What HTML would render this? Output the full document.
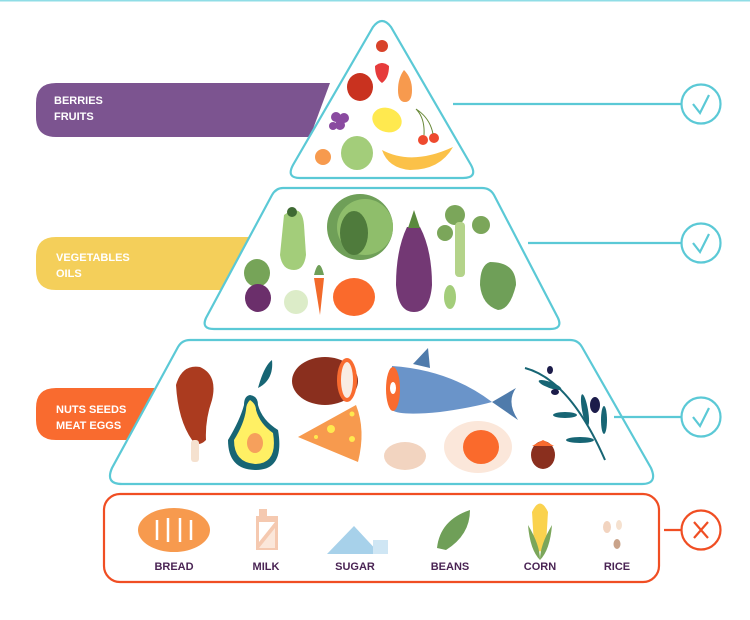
<!DOCTYPE html>
<html><head><meta charset="utf-8"><style>
html,body{margin:0;padding:0;background:#fff;}
svg{display:block;}
text{font-family:"Liberation Sans Narrow","Liberation Sans",sans-serif;font-weight:bold;}
</style></head><body>
<svg width="750" height="620" viewBox="0 0 750 620" xmlns="http://www.w3.org/2000/svg">
<rect x="0" y="0" width="750" height="1.5" fill="#8fdde6"/>
<!-- labels -->
<path d="M56,83 H330 L310,137 H56 Q36,137 36,117 V103 Q36,83 56,83Z" fill="#7c5490"/>
<text x="54" y="104" font-size="11" fill="#fff">BERRIES</text>
<text x="54" y="120" font-size="11" fill="#fff">FRUITS</text>
<path d="M56,237 H252 L228,290 H56 Q36,290 36,270 V257 Q36,237 56,237Z" fill="#f4cf5a"/>
<text x="56" y="261" font-size="11" fill="#fff">VEGETABLES</text>
<text x="56" y="277" font-size="11" fill="#fff">OILS</text>
<path d="M56,388 H155 L130,440 H56 Q36,440 36,420 V408 Q36,388 56,388Z" fill="#f96b2f"/>
<text x="56" y="413" font-size="11" fill="#fff">NUTS SEEDS</text>
<text x="56" y="429" font-size="11" fill="#fff">MEAT EGGS</text>
<!-- tiers -->
<path d="M373,27 Q382,15 391,27 L471,165 Q478,178 463,178 H300 Q286,178 293,165 Z" fill="#fff" stroke="#5bc9d6" stroke-width="2.2"/>
<path d="M283,188 H482 Q490,188 494,195 L558,318 Q563,329 550,329 H214 Q201,329 206,318 L272,195 Q276,188 283,188Z" fill="#fff" stroke="#5bc9d6" stroke-width="2.2"/>
<path d="M190,340 H570 Q578,340 582,347 L651,468 Q658,484 642,484 H122 Q105,484 112,468 L178,347 Q182,340 190,340Z" fill="#fff" stroke="#5bc9d6" stroke-width="2.2"/>
<rect x="104" y="494" width="555" height="88" rx="16" fill="#fff" stroke="#f04e23" stroke-width="2.2"/>
<!-- connectors -->
<g stroke="#5bc9d6" stroke-width="2.2" fill="none">
<line x1="453" y1="104" x2="681" y2="104"/>
<line x1="528" y1="243" x2="681" y2="243"/>
<line x1="614" y1="417" x2="681" y2="417"/>
<circle cx="701" cy="104" r="19.5"/><circle cx="701" cy="243" r="19.5"/><circle cx="701" cy="417" r="19.5"/>
<path d="M693,104 L700,113 L709,95"/><path d="M693,243 L700,252 L709,234"/><path d="M693,417 L700,426 L709,408"/>
</g>
<g stroke="#f04e23" stroke-width="2.2" fill="none">
<line x1="664" y1="530" x2="682" y2="530"/><circle cx="701" cy="530" r="19.5"/>
<path d="M694,522 L708,538 M708,522 L694,538"/>
</g>
<!-- fruits -->
<circle cx="382" cy="46" r="6" fill="#d8422a"/>
<path d="M375,66 Q382,60 389,66 Q389,78 382,83 Q375,78 375,66Z" fill="#e63b3b"/>
<ellipse cx="360" cy="87" rx="13" ry="14" fill="#c9321f"/>
<path d="M404,70 Q398,78 398,90 Q398,102 405,102 Q412,102 412,90 Q412,78 404,70Z" fill="#f79a4e"/>
<g fill="#8a4aa0"><circle cx="336" cy="117" r="5"/><circle cx="344" cy="118" r="5"/><circle cx="340" cy="125" r="5"/><circle cx="333" cy="126" r="4"/></g>
<ellipse cx="387" cy="120" rx="15" ry="12" fill="#ffe94f" transform="rotate(20 387 120)"/>
<circle cx="423" cy="140" r="5" fill="#ee4a2e"/><circle cx="434" cy="138" r="5" fill="#ee4a2e"/>
<path d="M424,135 Q425,118 416,109 M433,134 Q430,118 416,109" stroke="#6a8a3a" fill="none"/>
<circle cx="323" cy="157" r="8" fill="#f79a4e"/>
<ellipse cx="357" cy="153" rx="16" ry="17" fill="#a3cd7a"/>
<path d="M382,150 Q412,166 453,147 Q440,170 410,170 Q388,168 382,150Z" fill="#fbc148"/>
<!-- vegetables -->
<path d="M284,215 Q302,202 304,225 L306,255 Q304,270 294,270 Q282,270 280,255Z" fill="#a3cd7a"/>
<circle cx="292" cy="212" r="5" fill="#3f6a33"/>
<circle cx="360" cy="227" r="33" fill="#6f9f58"/><circle cx="365" cy="227" r="28" fill="#8fbe6b"/>
<ellipse cx="354" cy="233" rx="14" ry="22" fill="#4f7b3c"/>
<path d="M407,227 Q396,250 396,285 Q398,312 414,312 Q430,312 432,285 Q432,250 420,227Z" fill="#733874"/>
<path d="M408,228 L420,228 L414,210Z" fill="#5a8a3e"/>
<g fill="#7ba65a"><circle cx="455" cy="215" r="10"/><circle cx="481" cy="225" r="9"/><circle cx="445" cy="233" r="8"/></g>
<rect x="455" y="222" width="10" height="55" rx="4" fill="#b4d38a"/>
<path d="M490,262 Q516,262 516,285 Q510,310 498,310 Q482,305 480,285 Q480,265 490,262Z" fill="#6f9f58"/>
<ellipse cx="257" cy="273" rx="13" ry="14" fill="#76a458"/>
<ellipse cx="258" cy="298" rx="13" ry="14" fill="#6b2f6b"/>
<ellipse cx="296" cy="302" rx="12" ry="12" fill="#dcecc8"/>
<path d="M314,278 L324,278 L320,315Z" fill="#f26a2b"/>
<path d="M314,275 Q319,255 324,275Z" fill="#6f9f58"/>
<ellipse cx="354" cy="297" rx="21" ry="19" fill="#fa6a2c"/>
<ellipse cx="450" cy="297" rx="6" ry="12" fill="#a3cd7a"/>
<!-- tier3 -->
<path d="M176,385 Q182,364 200,367 Q218,375 212,400 Q205,420 206,440 Q198,448 192,440 Q178,420 176,385Z" fill="#ab3b1f"/>
<rect x="191" y="440" width="8" height="22" rx="3" fill="#f5e1cf"/>
<path d="M250,395 Q258,396 258,405 Q262,420 278,430 Q285,470 256,470 Q228,470 228,440 Q240,420 244,405 Q244,396 250,395Z" fill="#176574"/>
<path d="M250,400 Q256,404 256,410 Q260,424 273,433 Q278,463 256,464 Q234,463 234,440 Q244,424 246,410 Q246,404 250,400Z" fill="#fff064"/>
<ellipse cx="255" cy="443" rx="8" ry="10" fill="#f6a05c"/>
<path d="M258,388 Q264,366 272,360 Q274,380 258,388Z" fill="#176574"/>
<ellipse cx="325" cy="381" rx="33" ry="24" fill="#8a2f1e"/>
<ellipse cx="347" cy="380" rx="10" ry="22" fill="#f96b2f"/><ellipse cx="347" cy="380" rx="6" ry="18" fill="#f9ece3"/>
<path d="M392,366 Q450,370 492,402 Q470,408 440,412 Q400,416 392,410Z" fill="#6a94c9"/>
<path d="M492,402 L516,388 Q506,402 518,420Z" fill="#4f7bab"/>
<path d="M413,364 L428,348 L430,368Z" fill="#4f7bab"/>
<ellipse cx="393" cy="389" rx="7" ry="22" fill="#f96b2f"/><ellipse cx="393" cy="388" rx="3" ry="6" fill="#fff"/>
<path d="M298,437 L356,405 Q366,430 358,462Z" fill="#f79a4e"/>
<g fill="#ffe94f"><circle cx="352" cy="414" r="2.5"/><circle cx="331" cy="429" r="4"/><circle cx="352" cy="439" r="3"/><circle cx="316" cy="437" r="2"/></g>
<ellipse cx="405" cy="456" rx="21" ry="14" fill="#f2d4c0"/>
<ellipse cx="478" cy="447" rx="34" ry="26" fill="#fbe7da"/>
<ellipse cx="481" cy="447" rx="18" ry="17" fill="#fa6a2c"/>
<ellipse cx="543" cy="455" rx="12" ry="14" fill="#8a2f1e"/>
<path d="M532,446 L554,446 L543,440Z" fill="#f96b2f"/>
<path d="M525,368 Q570,380 605,460" stroke="#176574" stroke-width="2" fill="none"/>
<g fill="#176574"><ellipse cx="550" cy="385" rx="12" ry="3" transform="rotate(20 550 385)"/><ellipse cx="585" cy="410" rx="3" ry="16" transform="rotate(-10 585 410)"/><ellipse cx="580" cy="440" rx="14" ry="3"/><ellipse cx="604" cy="420" rx="3" ry="14"/><ellipse cx="565" cy="415" rx="12" ry="3"/></g>
<g fill="#1c1c4a"><ellipse cx="595" cy="405" rx="5" ry="8"/><ellipse cx="555" cy="392" rx="4" ry="3"/><ellipse cx="550" cy="370" rx="3" ry="4"/></g>
<!-- bottom row -->
<ellipse cx="174" cy="530" rx="36" ry="22" fill="#f79a4e"/>
<g stroke="#fff" stroke-width="2.5"><line x1="157" y1="520" x2="157" y2="540"/><line x1="168" y1="518" x2="168" y2="542"/><line x1="180" y1="518" x2="180" y2="542"/><line x1="191" y1="520" x2="191" y2="540"/></g>
<rect x="256" y="516" width="22" height="34" fill="#f5c9b0"/><rect x="259" y="509" width="8" height="8" fill="#f5c9b0"/>
<path d="M259,548 L275,528 L275,548Z" fill="#fbe7da"/><path d="M259,522 L275,522 L259,542Z" fill="#fff"/>
<path d="M327,554 L354,526 L380,554Z" fill="#a7d1ea"/><rect x="373" y="540" width="15" height="14" fill="#cfe6f4"/>
<path d="M437,548 Q440,520 470,510 Q470,535 446,550Z" fill="#6f9f58"/>
<path d="M532,512 Q540,495 548,512 L546,545 Q540,558 534,545Z" fill="#fad24e"/>
<path d="M528,525 Q540,545 540,560 Q530,550 528,525Z M552,525 Q540,545 540,560 Q550,550 552,525Z" fill="#7ba65a"/>
<ellipse cx="607" cy="527" rx="4" ry="6" fill="#f2d4c0"/><ellipse cx="619" cy="525" rx="3" ry="5" fill="#f5e1cf"/><ellipse cx="617" cy="544" rx="3.5" ry="5" fill="#c9a38a"/>
<g font-size="11" fill="#4a2454" text-anchor="middle">
<text x="174" y="570">BREAD</text><text x="266" y="570">MILK</text><text x="355" y="570">SUGAR</text><text x="450" y="570">BEANS</text><text x="540" y="570">CORN</text><text x="617" y="570">RICE</text>
</g>
</svg>
</body></html>
